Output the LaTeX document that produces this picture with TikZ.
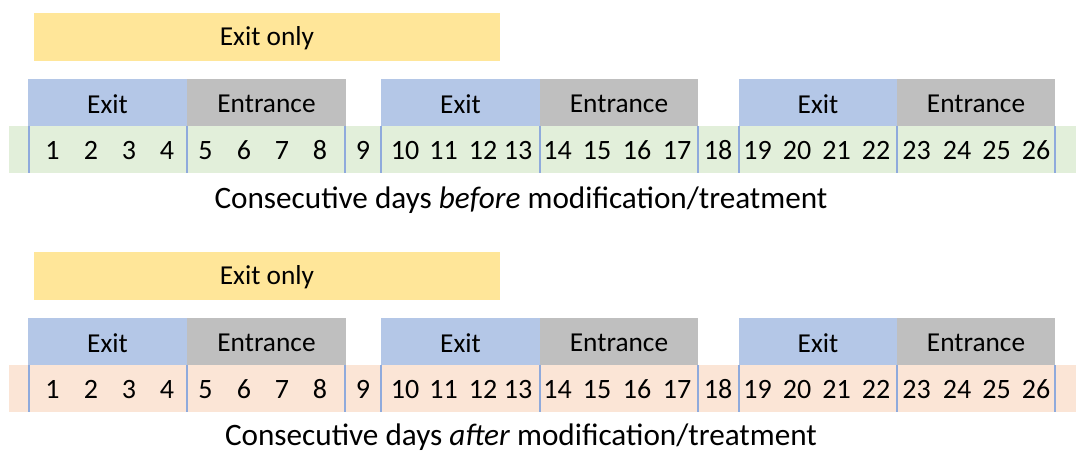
\documentclass[tikz,border=0pt]{standalone}
\usepackage{fontspec}
\setmainfont{Carlito}
\definecolor{onlyc}{HTML}{FFE699}
\definecolor{exitc}{HTML}{B4C7E7}
\definecolor{entc}{HTML}{BFBFBF}
\definecolor{stripA}{HTML}{E2EFDA}
\definecolor{stripB}{HTML}{FBE5D6}
\definecolor{divc}{HTML}{8FAADC}
\tikzset{
  lbl/.style={inner sep=0pt, font=\fontsize{20.5}{23}\selectfont},
  num/.style={inner sep=0pt, font=\fontsize{21}{24}\selectfont},
  captxt/.style={inner sep=0pt, font=\fontsize{23.4}{26}\selectfont},
  divider/.style={draw=divc, line width=1.2pt},
}
\begin{document}
\begin{tikzpicture}[x=0.75pt,y=-0.75pt]
\useasboundingbox (0,0) rectangle (1076,452);
\foreach \oy/\sc/\word/\p/\cy in {0/stripA/before/a/200.5, 239/stripB/after/b/198} {
  \begin{scope}[shift={(0,\oy)}]
    \fill[onlyc] (34,13) rectangle (500,61);
    \node[lbl] (\p-only) at (267,38) {Exit only};
    % header blocks
    \foreach \xa/\xb/\c/\t/\n in {28/187/exitc/Exit/1, 187/346/entc/Entrance/2, 381/540/exitc/Exit/3, 540/698/entc/Entrance/4, 739/897/exitc/Exit/5, 897/1055/entc/Entrance/6} {
      \fill[\c] (\xa,79) rectangle (\xb,126);
      \node[lbl] (\p-h\n) at ({(\xa+\xb)/2},104) {\t};
    }
    \fill[\sc] (9,126) rectangle (1076,173);
    \foreach \x in {29,187,345,381,540,698,739,897,1055} {
      \draw[divider] (\x,126) -- (\x,173);
    }
    \foreach \x [count=\i] in {52.5,91,129,167,205.5,244,282,320,363,405,443.5,483,518,557.5,597,637,677,718,757.5,797,836.5,876,916.5,957,996.5,1036} {
      \node[num] (\p-d\i) at (\x,150.5) {\i};
    }
    \node[captxt] (\p-cap) at (521,\cy) {Consecutive days \textit{\word} modification/treatment};
  \end{scope}
}
\end{tikzpicture}
\end{document}
